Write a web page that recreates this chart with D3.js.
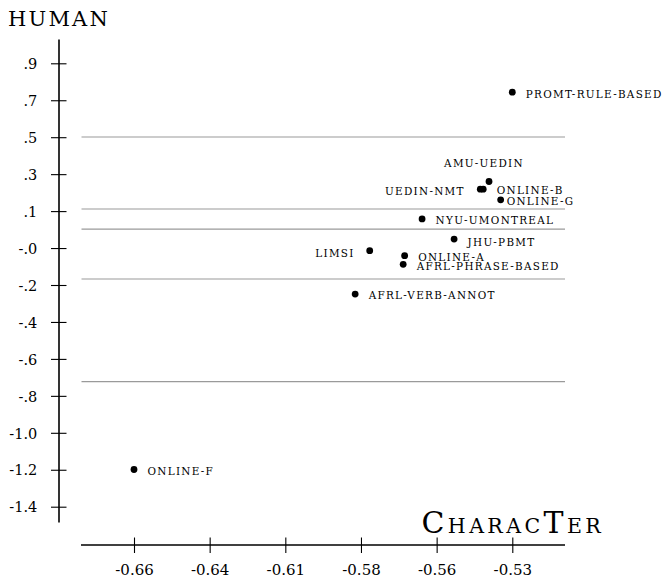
<!DOCTYPE html>
<html>
<head>
<meta charset="utf-8">
<script src="https://cdn.jsdelivr.net/npm/d3@7/dist/d3.min.js"></script>
<style>
  html, body { margin: 0; padding: 0; background: #fff; }
  svg { display: block; }
  text { font-family: "DejaVu Serif", "Liberation Serif", serif; fill: #000; }
</style>
</head>
<body>
<svg id="chart" width="670" height="578"></svg>
<script>
// ---------------- data ----------------
const systems = ["PROMT-RULE-BASED", "AMU-UEDIN", "UEDIN-NMT", "ONLINE-B", "ONLINE-G",
  "NYU-UMONTREAL", "JHU-PBMT", "LIMSI", "ONLINE-A", "AFRL-PHRASE-BASED", "AFRL-VERB-ANNOT", "ONLINE-F"];
const characterScores = [-0.530, -0.538, -0.541, -0.540, -0.534,
  -0.561, -0.550, -0.579, -0.567, -0.5675, -0.584, -0.660];
const humanScores = [0.750, 0.287, 0.247, 0.247, 0.192,
  0.093, -0.012, -0.072, -0.098, -0.143, -0.297, -1.207];
const clusterLines = [0.518, 0.144, 0.040, -0.219, -0.751];
const xTickLabels = ["-0.66", "-0.64", "-0.61", "-0.58", "-0.56", "-0.53"];
const yTickLabels = [".9", ".7", ".5", ".3", ".1", "-.0", "-.2", "-.4", "-.6", "-.8", "-1.0", "-1.2", "-1.4"];

// ---------------- layout ----------------
const svg = d3.select("#chart");
const x = d3.scaleLinear().domain([-0.66, -0.53]).range([134, 512.3]);
const y = d3.scaleLinear().domain([0.9, -1.4]).range([63.3, 506.7]);
const xAxisY = 545, yAxisX = 59;
const plotLeft = 81.5, plotRight = 565;

const xTickVals = xTickLabels.map((_, i) => -0.66 + i * (0.13 / (xTickLabels.length - 1)));
const yTickVals = yTickLabels.map((_, i) => 0.9 - i * (2.3 / (yTickLabels.length - 1)));

// label placement (not data)
const placement = {
  "AMU-UEDIN": { anchor: "middle", dx: -5, dy: -14.5 },
  "UEDIN-NMT": { anchor: "end", dx: -15.5, dy: 5.5 },
  "LIMSI": { anchor: "end", dx: -15, dy: 6 },
  "ONLINE-G": { anchor: "start", dx: 6, dy: 5 },
  "JHU-PBMT": { anchor: "start", dx: 13.5, dy: 6.5 }
};
const defaultPlace = { anchor: "start", dx: 13.5, dy: 5.3 };

// cluster separator lines
svg.append("g").selectAll("line").data(clusterLines).join("line")
  .attr("x1", plotLeft).attr("x2", plotRight)
  .attr("y1", d => y(d)).attr("y2", d => y(d))
  .attr("stroke", "#9a9a9a").attr("stroke-width", 1.1);

// y axis
const yAxis = d3.axisLeft(y).tickValues(yTickVals).tickSize(0)
  .tickFormat((d, i) => yTickLabels[i]);
const gy = svg.append("g").attr("transform", `translate(${yAxisX},0)`).call(yAxis);
gy.select(".domain").remove();
gy.append("line").attr("x1", 0).attr("x2", 0).attr("y1", 39.5).attr("y2", 522.5)
  .attr("stroke", "#000").attr("stroke-width", 1.6);
gy.selectAll(".tick").append("line").attr("x1", -8).attr("x2", 7.5)
  .attr("stroke", "#000").attr("stroke-width", 1.1);
gy.selectAll(".tick text").attr("x", -21.7).attr("dy", "0.36em")
  .style("font-size", "14.5px").style("font-family", "DejaVu Serif");

// x axis
const xAxis = d3.axisBottom(x).tickValues(xTickVals).tickSize(0)
  .tickFormat((d, i) => xTickLabels[i]);
const gx = svg.append("g").attr("transform", `translate(0,${xAxisY})`).call(xAxis);
gx.select(".domain").remove();
gx.append("line").attr("x1", plotLeft - 0.5).attr("x2", plotRight).attr("y1", 0).attr("y2", 0)
  .attr("stroke", "#000").attr("stroke-width", 1.6);
gx.selectAll(".tick").append("line").attr("y1", -7.5).attr("y2", 8)
  .attr("stroke", "#000").attr("stroke-width", 1.1);
gx.selectAll(".tick text").attr("y", 30).attr("dy", 0)
  .style("font-size", "15px").style("font-family", "DejaVu Serif");

// points
const pts = systems.map((s, i) => ({ name: s, cx: characterScores[i], hy: humanScores[i] }));
svg.append("g").selectAll("circle").data(pts).join("circle")
  .attr("cx", d => x(d.cx)).attr("cy", d => y(d.hy)).attr("r", 3.4).attr("fill", "#000");

// labels
svg.append("g").selectAll("text").data(pts).join("text")
  .each(function (d) {
    const p = placement[d.name] || defaultPlace;
    d3.select(this)
      .attr("x", x(d.cx) + p.dx).attr("y", y(d.hy) + p.dy)
      .attr("text-anchor", p.anchor);
  })
  .style("font-size", "10.4px").style("letter-spacing", "1.3px")
  .text(d => d.name);

// axis titles
svg.append("text").attr("x", 8).attr("y", 26)
  .style("font-size", "21px").style("letter-spacing", "2.2px").text("HUMAN");

const ct = svg.append("text").attr("x", 421.5).attr("y", 533).style("letter-spacing", "3.4px");
ct.append("tspan").style("font-size", "30px").text("C");
ct.append("tspan").style("font-size", "20.5px").text("HARAC");
ct.append("tspan").style("font-size", "30px").text("T");
ct.append("tspan").style("font-size", "20.5px").text("ER");
</script>
</body>
</html>
